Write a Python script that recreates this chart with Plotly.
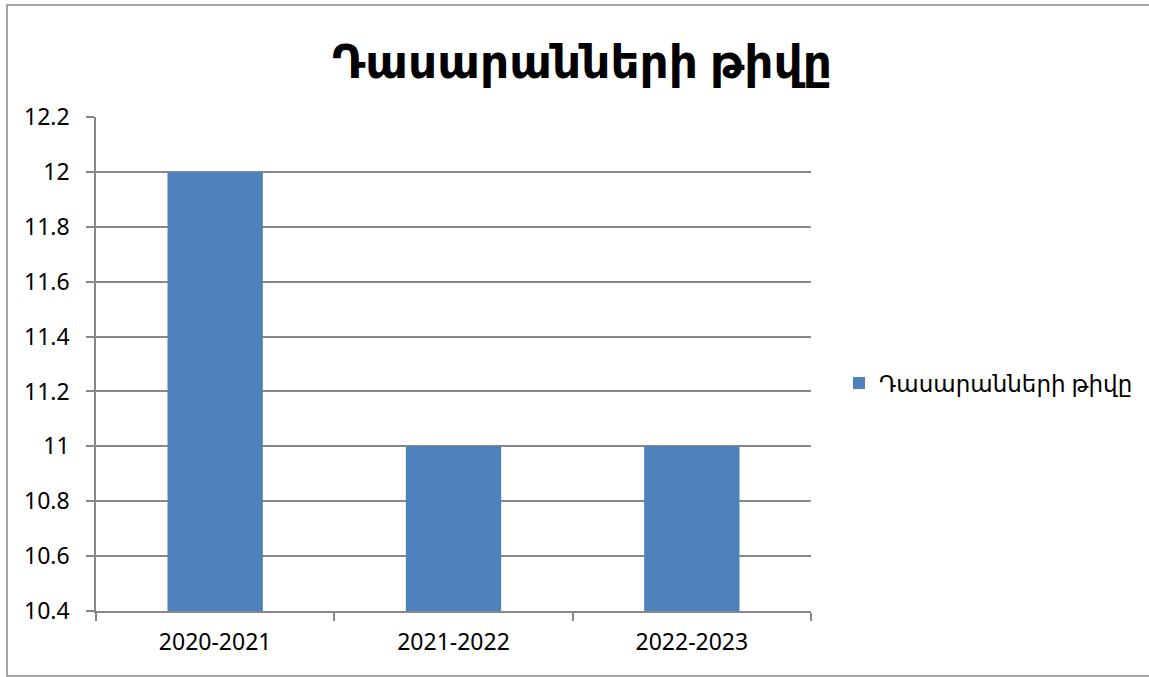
import plotly.graph_objects as go

categories = ["2020-2021", "2021-2022", "2022-2023"]
values = [12, 11, 11]
series_name = "Դասարանների թիվը"
title_text = "Դասարանների թիվը"

FONT = "'Noto Sans', 'DejaVu Sans', sans-serif"

W, H = 1149, 677
L, R, T, B = 96, 811, 117, 611
pw, ph = R - L, B - T

fig = go.Figure()
fig.add_trace(go.Bar(
    x=categories, y=values, name=series_name,
    marker=dict(color="#4F81BD", line=dict(width=0)),
    showlegend=True,
))

fig.update_layout(
    width=W, height=H,
    margin=dict(l=L, r=W - R, t=T, b=H - B, pad=0, autoexpand=False),
    paper_bgcolor="white", plot_bgcolor="white",
    font=dict(family=FONT, size=23, color="black"),
    title=dict(text="<b>" + title_text + "</b>", xref="paper", x=(582 - L) / pw,
               xanchor="center", y=1 - 62 / H, yanchor="middle",
               font=dict(size=45.5, family=FONT)),
    bargap=0.6,
    showlegend=True,
    legend=dict(x=(839 - L) / pw, xanchor="left", y=(B - 383) / ph, yanchor="middle",
                font=dict(size=23, family=FONT), itemwidth=30,
                bgcolor="rgba(0,0,0,0)"),
    xaxis=dict(showline=True, linecolor="#878787", linewidth=1.5,
               ticks="outside", tickson="boundaries", ticklen=8, tickcolor="#878787",
               tickwidth=1.5, showgrid=False, tickfont=dict(size=23),
               ticklabelstandoff=10),
    yaxis=dict(range=[10.4, 12.2], dtick=0.2, tick0=10.4, showline=True,
               linecolor="#878787", linewidth=1.5, ticks="outside", ticklen=8,
               tickcolor="#878787", tickwidth=1.5, showgrid=True, gridcolor="#878787",
               gridwidth=1.5, zeroline=False, tickformat=".1~f",
               tickfont=dict(size=23), ticklabelstandoff=12),
    shapes=[dict(type="rect", xref="paper", yref="paper",
                 x0=(7 - L) / pw, x1=(1160 - L) / pw,
                 y0=(B - 676) / ph, y1=(B - 5) / ph,
                 line=dict(color="#878787", width=1.5), fillcolor="rgba(0,0,0,0)",
                 layer="below")],
)

fig.write_html("out.html", config={"displayModeBar": False},
               post_script="document.body.style.margin='0';")
